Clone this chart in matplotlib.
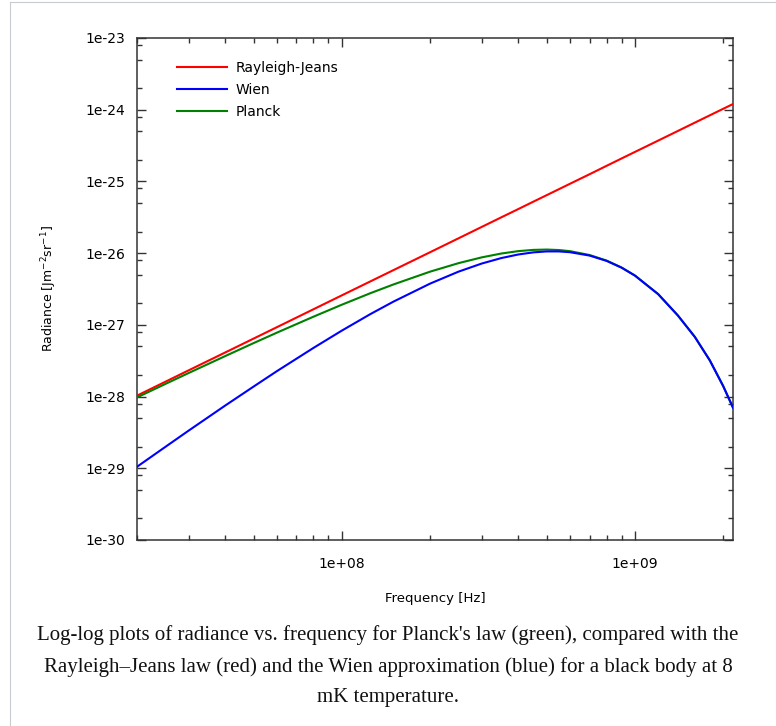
import matplotlib
matplotlib.use('Agg')
import matplotlib.pyplot as plt
from matplotlib.ticker import FixedLocator, LogLocator, FuncFormatter, NullFormatter
from matplotlib.lines import Line2D

# Frequency [Hz]
freq = [2.0e7, 2.5e7, 3.0e7, 4.0e7, 5.0e7, 6.0e7, 8.0e7, 1.0e8, 1.25e8, 1.5e8,
        2.0e8, 2.5e8, 3.0e8, 3.5e8, 4.0e8, 4.5e8, 5.0e8, 5.5e8, 6.0e8, 7.0e8,
        8.0e8, 9.0e8, 1.0e9, 1.2e9, 1.4e9, 1.6e9, 1.8e9, 2.0e9, 2.16e9]

# Radiance values
rayleigh_jeans = [1.03e-28, 1.61e-28, 2.32e-28, 4.12e-28, 6.44e-28, 9.27e-28, 1.65e-27,
                  2.58e-27, 4.03e-27, 5.80e-27, 1.03e-26, 1.61e-26, 2.32e-26, 3.16e-26,
                  4.12e-26, 5.22e-26, 6.44e-26, 7.79e-26, 9.27e-26, 1.26e-25, 1.65e-25,
                  2.09e-25, 2.58e-25, 3.71e-25, 5.05e-25, 6.60e-25, 8.35e-25, 1.03e-24,
                  1.20e-24]
wien = [1.05e-29, 1.99e-29, 3.35e-29, 7.50e-29, 1.38e-28, 2.26e-28, 4.77e-28,
        8.32e-28, 1.41e-27, 2.11e-27, 3.76e-27, 5.52e-27, 7.16e-27, 8.54e-27,
        9.58e-27, 1.025e-26, 1.057e-26, 1.057e-26, 1.031e-26, 9.25e-27, 7.80e-27,
        6.27e-27, 4.86e-27, 2.68e-27, 1.355e-27, 6.8e-28, 3.2e-28, 1.4e-28, 7.0e-29]
planck = [9.73e-29, 1.50e-28, 2.13e-28, 3.67e-28, 5.57e-28, 7.78e-28, 1.30e-27,
          1.91e-27, 2.76e-27, 3.66e-27, 5.52e-27, 7.25e-27, 8.73e-27, 9.88e-27,
          1.067e-26, 1.110e-26, 1.122e-26, 1.105e-26, 1.066e-26, 9.42e-27, 7.88e-27,
          6.31e-27, 4.87e-27, 2.68e-27, 1.356e-27, 6.8e-28, 3.2e-28, 1.4e-28, 7.0e-29]

x_ticks = [1e8, 1e9]
y_ticks = [1e-30, 1e-29, 1e-28, 1e-27, 1e-26, 1e-25, 1e-24, 1e-23]

caption = ("Log-log plots of radiance vs. frequency for Planck's law (green), compared with the\n"
           "Rayleigh\u2013Jeans law (red) and the Wien approximation (blue) for a black body at 8\n"
           "mK temperature.")

plt.rcParams['font.family'] = ['DejaVu Sans']
frame_col = '#333333'

fig = plt.figure(figsize=(7.76, 7.26), dpi=100)
ax = fig.add_axes([137 / 776, 1 - 540 / 726, 596 / 776, 502 / 726])

ax.plot(freq, rayleigh_jeans, color='#ff0000', lw=1.5, label='Rayleigh-Jeans', zorder=3)
ax.plot(freq, planck, color='#008000', lw=1.5, label='Planck', zorder=3)
ax.plot(freq, wien, color='#0000ff', lw=1.5, label='Wien', zorder=4)

ax.set_xscale('log')
ax.set_yscale('log')
ax.set_xlim(2e7, 2.16e9)
ax.set_ylim(1e-30, 1e-23)

ax.xaxis.set_major_locator(FixedLocator(x_ticks))
ax.xaxis.set_minor_locator(LogLocator(base=10, subs=[2, 3, 4, 5, 6, 7, 8, 9], numticks=20))
ax.yaxis.set_major_locator(FixedLocator(y_ticks))
ax.yaxis.set_minor_locator(LogLocator(base=10, subs=[2, 5, 8], numticks=20))
fmt = FuncFormatter(lambda v, p: '%.0e' % v)
ax.xaxis.set_major_formatter(fmt)
ax.yaxis.set_major_formatter(fmt)
ax.xaxis.set_minor_formatter(NullFormatter())
ax.yaxis.set_minor_formatter(NullFormatter())

ax.tick_params(which='both', direction='in', top=True, right=True, color=frame_col, width=1.0)
ax.tick_params(which='major', length=6.5)
ax.tick_params(which='minor', length=3.4)
ax.tick_params(axis='y', which='major', pad=8.5, labelsize=10)
ax.tick_params(axis='x', which='major', pad=12, labelsize=10)
for s in ax.spines.values():
    s.set_color(frame_col)
    s.set_linewidth(1.1)

ax.set_xlabel('Frequency [Hz]', fontsize=9.5)
ax.xaxis.set_label_coords(0.5, -0.104)
ax.set_ylabel(r'Radiance [Jm$^{-2}$sr$^{-1}$]', fontsize=9)
ax.yaxis.set_label_coords(-0.131, 0.5)

h = ax.get_legend_handles_labels()[0]
ax.legend([h[0], h[2], h[1]], ['Rayleigh-Jeans', 'Wien', 'Planck'],
          loc='upper left', bbox_to_anchor=(0.067, 0.955), borderaxespad=0, borderpad=0,
          handlelength=3.6, handletextpad=0.6, labelspacing=0.6, frameon=False, fontsize=10)

# caption under the chart
fig.text(0.5, 1 - 625 / 726, caption, ha='center', va='top', fontsize=15,
         family='Liberation Serif', linespacing=1.8, color='#111111')

# thin frame of the thumbnail (top and left edges)
fig.add_artist(Line2D([10 / 776, 1], [1 - 2 / 726, 1 - 2 / 726], color='#c8ccd1', lw=0.8))
fig.add_artist(Line2D([10 / 776, 10 / 776], [0, 1 - 2 / 726], color='#c8ccd1', lw=0.8))

fig.savefig('out.png', dpi=100)
